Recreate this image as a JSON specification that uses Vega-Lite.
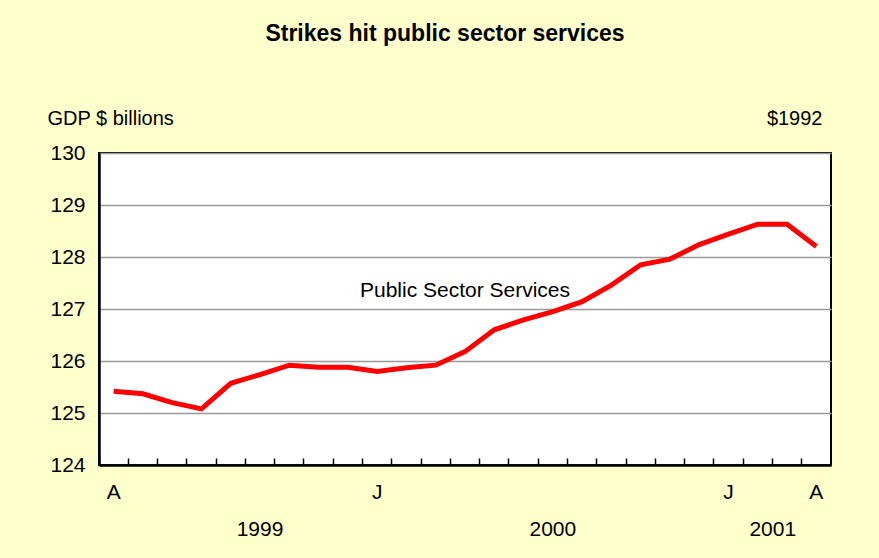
{
  "$schema": "https://vega.github.io/schema/vega-lite/v6.json",
  "width": 732,
  "height": 312,
  "autosize": {"type": "none"},
  "padding": {"left": 99, "top": 153, "right": 48, "bottom": 93},
  "background": "#FFFFCC",
  "config": {
    "view": {"stroke": "#000000", "strokeWidth": 2, "fill": "#FFFFFF"},
    "font": "Liberation Sans"
  },
  "title": {
    "text": "Strikes hit public sector services",
    "font": "Liberation Sans",
    "fontSize": 23,
    "fontWeight": "bold",
    "color": "#000000",
    "anchor": "middle",
    "dx": -20,
    "offset": 62
  },
  "layer": [
    {
      "data": {
        "values": [
          {"month": "1999-04", "gdp": 125.42},
          {"month": "1999-05", "gdp": 125.37},
          {"month": "1999-06", "gdp": 125.2},
          {"month": "1999-07", "gdp": 125.08},
          {"month": "1999-08", "gdp": 125.57},
          {"month": "1999-09", "gdp": 125.74},
          {"month": "1999-10", "gdp": 125.92},
          {"month": "1999-11", "gdp": 125.88},
          {"month": "1999-12", "gdp": 125.88},
          {"month": "2000-01", "gdp": 125.8},
          {"month": "2000-02", "gdp": 125.87},
          {"month": "2000-03", "gdp": 125.92},
          {"month": "2000-04", "gdp": 126.18},
          {"month": "2000-05", "gdp": 126.6},
          {"month": "2000-06", "gdp": 126.79},
          {"month": "2000-07", "gdp": 126.95},
          {"month": "2000-08", "gdp": 127.14},
          {"month": "2000-09", "gdp": 127.46},
          {"month": "2000-10", "gdp": 127.85},
          {"month": "2000-11", "gdp": 127.96},
          {"month": "2000-12", "gdp": 128.24},
          {"month": "2001-01", "gdp": 128.44},
          {"month": "2001-02", "gdp": 128.63},
          {"month": "2001-03", "gdp": 128.63},
          {"month": "2001-04", "gdp": 128.2}
        ]
      },
      "mark": {"type": "line", "color": "#FF0000", "strokeWidth": 5, "strokeJoin": "miter"},
      "encoding": {
        "x": {
          "field": "month",
          "type": "ordinal",
          "sort": "ascending",
          "scale": {"type": "band", "paddingInner": 0, "paddingOuter": 0},
          "axis": {
            "orient": "bottom",
            "offset": -7,
            "bandPosition": 0,
            "labels": false,
            "ticks": true,
            "tickSize": 7,
            "tickColor": "#000000",
            "tickWidth": 1.5,
            "domain": false,
            "grid": false,
            "title": null
          }
        },
        "y": {
          "field": "gdp",
          "type": "quantitative",
          "scale": {"domain": [124, 130], "zero": false, "nice": false},
          "axis": {
            "values": [124, 125, 126, 127, 128, 129, 130],
            "grid": true,
            "gridColor": "#999999",
            "gridWidth": 1.5,
            "domain": true,
            "domainColor": "#000000",
            "domainWidth": 2.5,
            "ticks": false,
            "labelFontSize": 21,
            "labelColor": "#000000",
            "labelPadding": 14,
            "labelFont": "Liberation Sans",
            "title": "GDP $ billions",
            "titleAngle": 0,
            "titleX": -52,
            "titleY": -35,
            "titleAlign": "left",
            "titleBaseline": "middle",
            "titleFontSize": 20,
            "titleFontWeight": "normal",
            "titleColor": "#000000",
            "titleFont": "Liberation Sans"
          }
        }
      }
    },
    {
      "data": {
        "values": [
          {"month": "2000-04", "gdp": 127.35, "label": "Public Sector Services"}
        ]
      },
      "mark": {"type": "text", "fontSize": 21, "color": "#000000", "font": "Liberation Sans"},
      "encoding": {
        "x": {
          "field": "month",
          "type": "ordinal",
          "sort": "ascending",
          "axis": {
            "orient": "bottom",
            "labels": true,
            "labelExpr": "datum.value=='1999-04'||datum.value=='2001-04' ? ['A',''] : (datum.value=='2000-01'||datum.value=='2001-01') ? ['J',''] : datum.value=='1999-09' ? ['','1999'] : datum.value=='2000-07' ? ['','2000'] : datum.value=='2001-02' ? ['','2001'] : ''",
            "ticks": false,
            "domain": true,
            "domainColor": "#000000",
            "domainWidth": 2.5,
            "grid": false,
            "labelPadding": 16,
            "labelFontSize": 21,
            "labelColor": "#000000",
            "labelLineHeight": 37,
            "labelBaseline": "top",
            "labelOverlap": false,
            "labelBound": false,
            "labelAngle": 0,
            "labelOffset": {"condition": {"test": "datum.value=='2001-02'", "value": 15}, "value": 0},
            "title": null
          }
        },
        "y": {
          "field": "gdp",
          "type": "quantitative",
          "axis": {
            "orient": "right",
            "labels": false,
            "ticks": false,
            "domain": false,
            "grid": false,
            "title": "$1992",
            "titleAngle": 0,
            "titleX": -9,
            "titleY": -35,
            "titleAlign": "right",
            "titleBaseline": "middle",
            "titleFontSize": 20,
            "titleFontWeight": "normal",
            "titleColor": "#000000",
            "titleFont": "Liberation Sans"
          }
        },
        "text": {"field": "label"}
      }
    }
  ],
  "resolve": {
    "scale": {"x": "shared", "y": "shared"},
    "axis": {"x": "independent", "y": "independent"}
  }
}
